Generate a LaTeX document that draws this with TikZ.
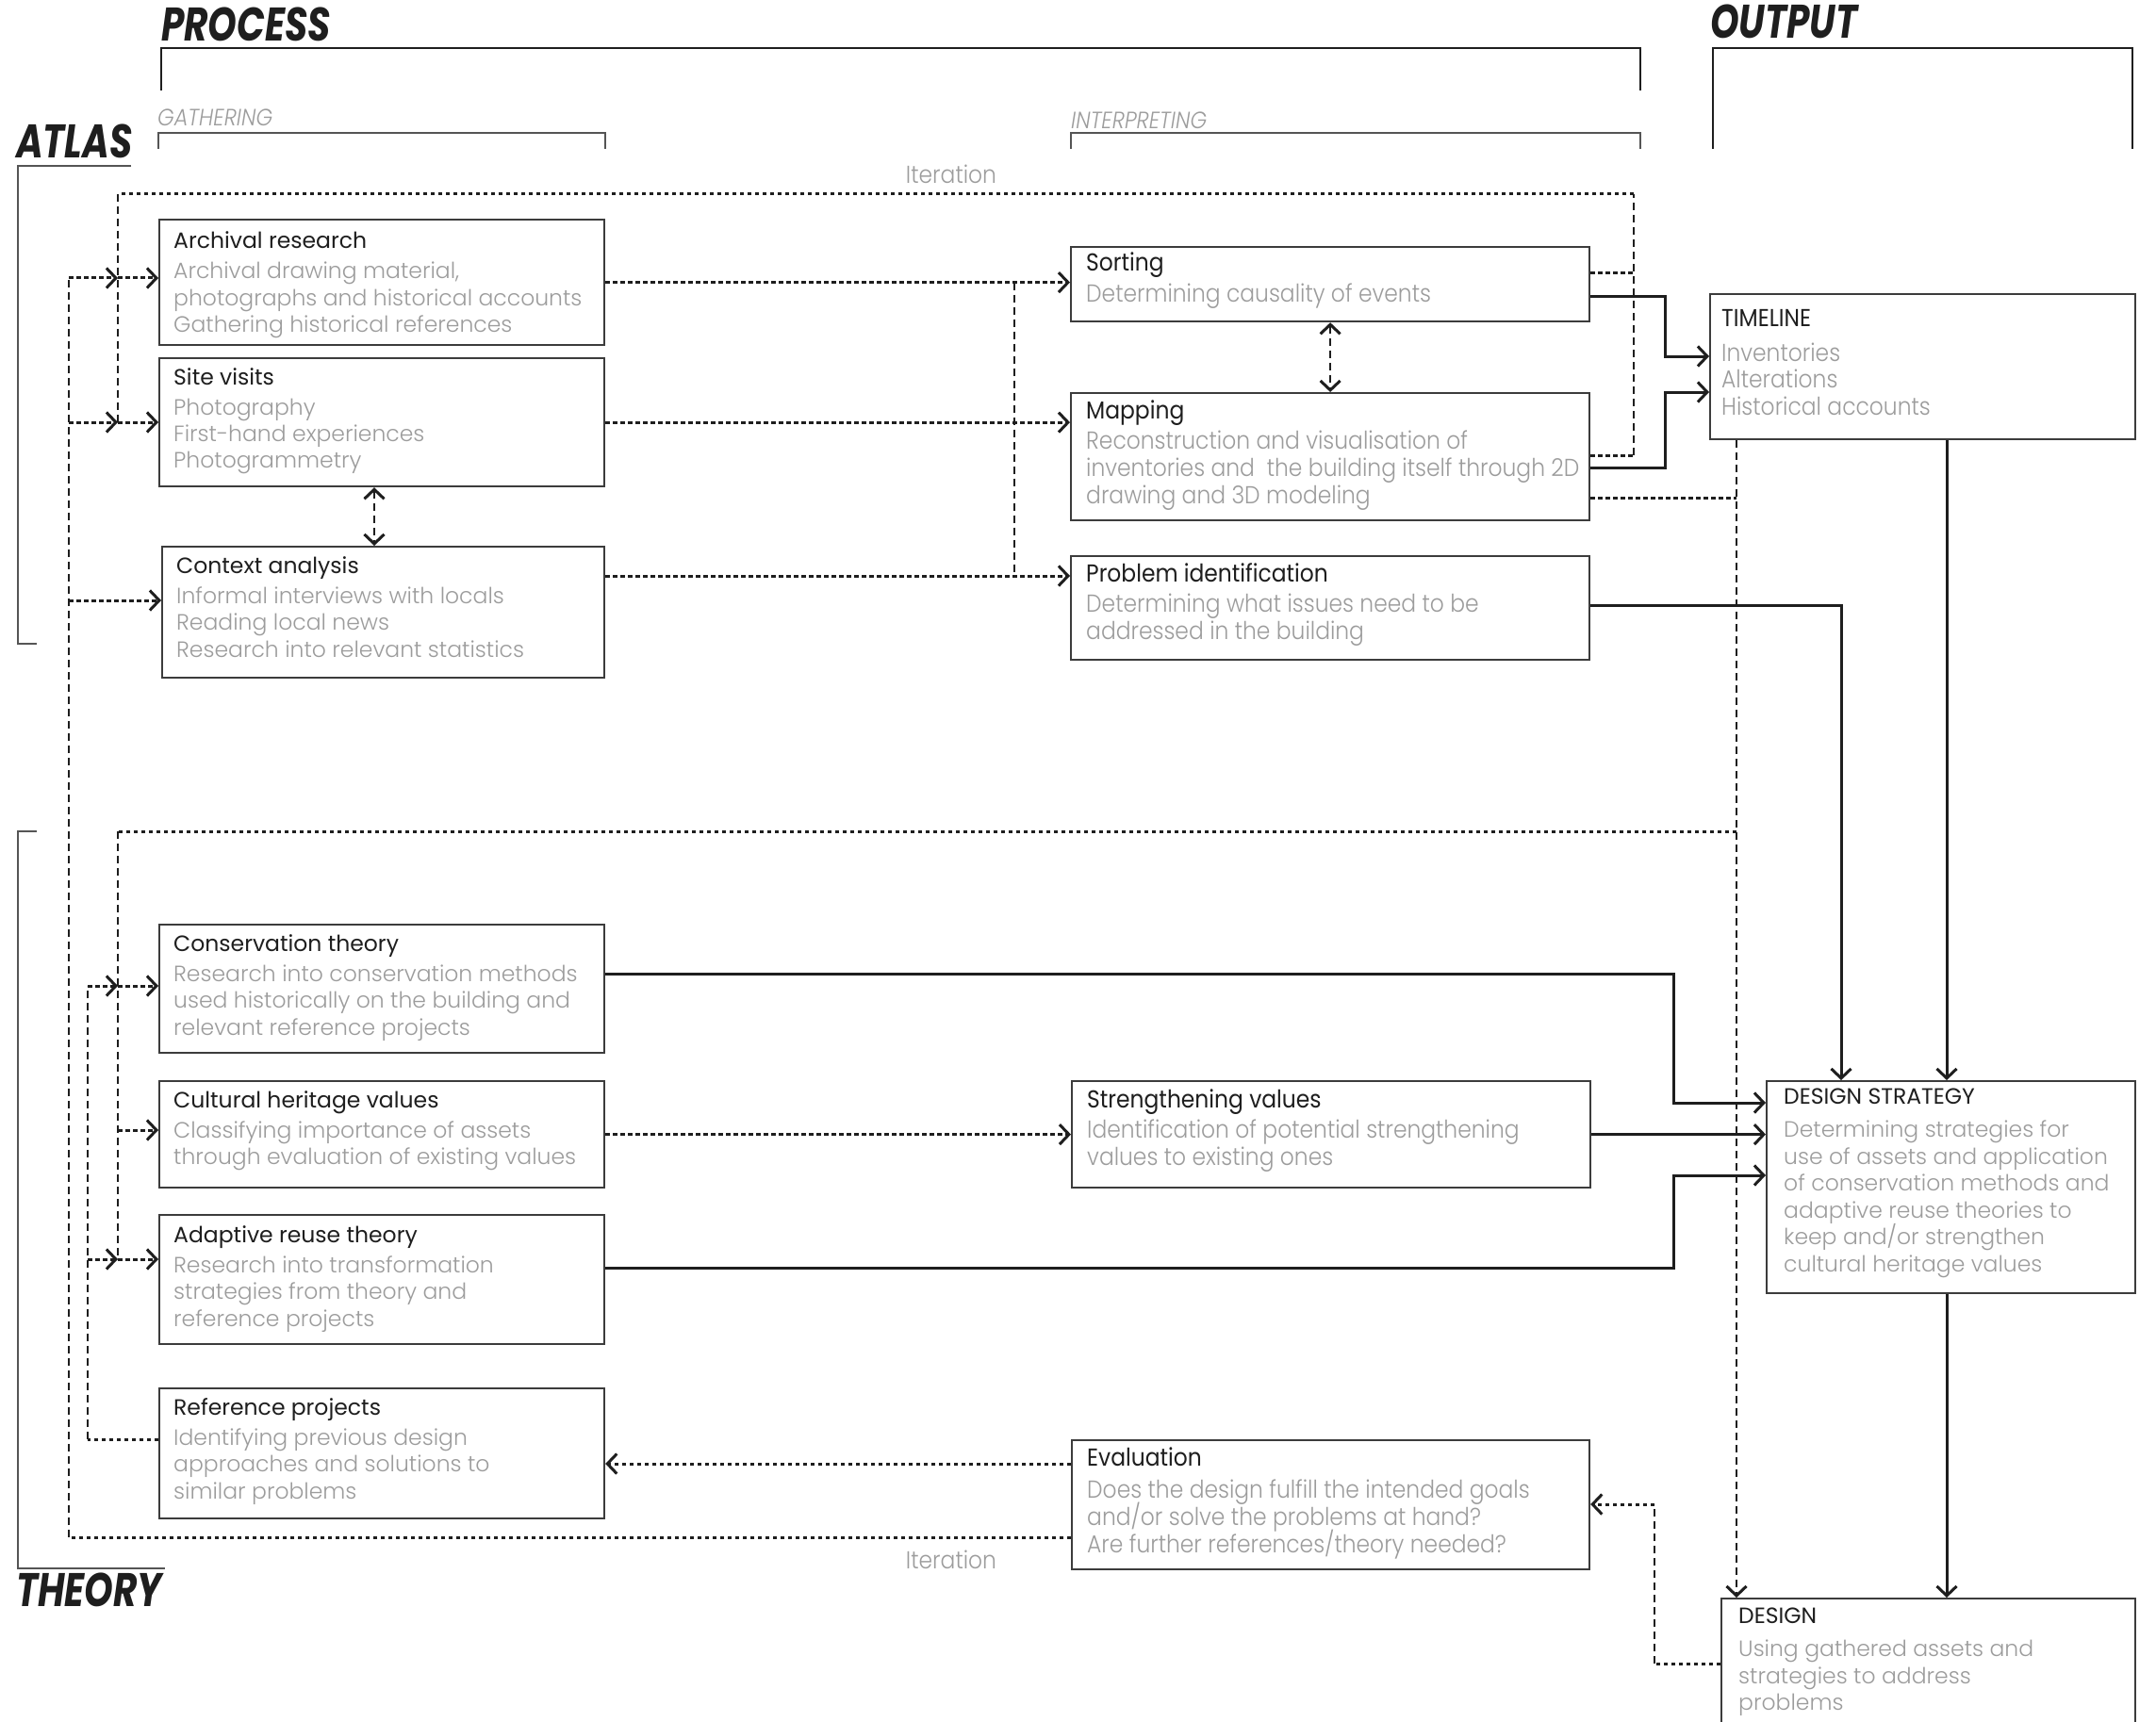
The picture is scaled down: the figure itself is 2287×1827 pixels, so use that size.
\documentclass[tikz,border=0pt]{standalone}
\usepackage{fontspec}
\usepackage{graphicx}
\setmainfont{Poppins}
\newfontfamily\popl{Poppins Light}
\newfontfamily\poplc{Poppins Light}[FakeStretch=0.9]
\newfontfamily\poprc{Poppins}[FakeStretch=0.9]
\newfontfamily\headf{Poppins}[FakeStretch=0.78]
\usetikzlibrary{arrows.meta}
\definecolor{ink}{HTML}{1E1E1E}
\definecolor{greytxt}{HTML}{9C9C9C}
\definecolor{boxline}{HTML}{3C3C3C}
\definecolor{brk}{HTML}{555555}
\newcommand\lefttext[3][3.5pt]{\parbox[t]{640pt}{\raggedright\lineskiplimit=-100pt\fontsize{23.5}{28.5}\selectfont\leavevmode\color{ink}#2\\[#1]\popl\color{greytxt}#3}}
\newcommand\midtext[3][3.5pt]{\parbox[t]{640pt}{\raggedright\lineskiplimit=-100pt\poprc\fontsize{26}{29}\selectfont\leavevmode\color{ink}#2\\[#1]\poplc\color{greytxt}#3}}
\begin{document}
\begin{tikzpicture}[x=1pt,y=-1pt,
  bx/.style={draw=boxline, line width=2.2pt, inner sep=0pt, anchor=north west, fill=white},
  txt/.style={anchor=base west, inner sep=0pt},
  head/.style={anchor=base west, inner sep=0pt, font=\headf\bfseries\itshape\fontsize{50}{50}\selectfont, text=ink},
  sub/.style={anchor=base west, inner sep=0pt, font=\poplc\itshape\fontsize{25}{25}\selectfont, text=greytxt},
  iter/.style={inner sep=0pt, font=\poplc\fontsize{26}{26}\selectfont, text=greytxt},
  brack/.style={draw=ink, line width=1.8pt},
  brackg/.style={draw=brk, line width=1.6pt},
  tip/.style={-{Straight Barb[length=10pt,width=21pt,line width=3pt]}},
  dtip/.style={{Straight Barb[length=10pt,width=21pt,line width=3pt]}-{Straight Barb[length=10pt,width=21pt,line width=3pt]}},
  dotl/.style={draw=ink, line width=3pt, dash pattern=on 4.5pt off 3.5pt},
  dashv/.style={draw=ink, line width=2.6pt, dash pattern=on 8pt off 5pt},
  dotarr/.style={dotl, tip},
  dasharr/.style={dashv, tip},
  dashboth/.style={dashv, dtip},
  sol/.style={draw=ink, line width=3pt},
  solarr/.style={sol, tip}
]
\useasboundingbox (0,0) rectangle (2287,1827);
\clip (0,0) rectangle (2287,1827);

% ---------- headings and brackets
\node[head] (hproc) at (171,44) {PROCESS};
\node[head] (hout) at (1814,41) {OUTPUT};
\node[head] (hatlas) at (17,168) {ATLAS};
\node[head] (htheory) at (17,1704) {THEORY};
\node[sub] (hgath) at (167,134) {GATHERING};
\node[sub] (hint) at (1136,137) {INTERPRETING};
\draw[brack] (171,96) -- (171,51) -- (1740,51) -- (1740,96);
\draw[brack] (1817,158) -- (1817,51) -- (2262,51) -- (2262,158);
\draw[brackg] (168,158) -- (168,141) -- (642,141) -- (642,158);
\draw[brackg] (1136,158) -- (1136,141) -- (1740,141) -- (1740,158);
\draw[brackg] (139,176) -- (19,176) -- (19,683) -- (39,683);
\draw[brackg] (39,882) -- (19,882) -- (19,1664) -- (175,1664);
\node[iter] (it1) at (1009,185) {Iteration};
\node[iter] (it2) at (1009,1655) {Iteration};

% ---------- helper coordinates
\coordinate (x73) at (73,0);
\coordinate (x93) at (93,0);
\coordinate (x125) at (125,0);
\coordinate (x397) at (397,0);
\coordinate (x1076) at (1076,0);
\coordinate (x1733) at (1733,0);
\coordinate (x1755) at (1755,0);
\coordinate (x1766) at (1766,0);
\coordinate (x1775) at (1775,0);
\coordinate (x1842) at (1842,0);
\coordinate (x1953) at (1953,0);
\coordinate (x2065) at (2065,0);
\coordinate (y206) at (0,206);
\coordinate (y290) at (0,290);
\coordinate (y295) at (0,295);
\coordinate (y315) at (0,315);
\coordinate (y378) at (0,378);
\coordinate (y416) at (0,416);
\coordinate (y448) at (0,448);
\coordinate (y483) at (0,483);
\coordinate (y496) at (0,496);
\coordinate (y528) at (0,528);
\coordinate (y611) at (0,611);
\coordinate (y637) at (0,637);
\coordinate (y642) at (0,642);
\coordinate (y882) at (0,882);
\coordinate (y1033) at (0,1033);
\coordinate (y1046) at (0,1046);
\coordinate (y1170) at (0,1170);
\coordinate (y1199) at (0,1199);
\coordinate (y1247) at (0,1247);
\coordinate (y1336) at (0,1336);
\coordinate (y1345) at (0,1345);
\coordinate (y1527) at (0,1527);
\coordinate (y1553) at (0,1553);
\coordinate (y1596) at (0,1596);
\coordinate (y1631) at (0,1631);
\coordinate (y1765) at (0,1765);

% ---------- boxes
\node[bx, minimum width=472pt, minimum height=133pt] (arch) at (168,232) {};
\node[bx, minimum width=472pt, minimum height=136pt] (site) at (168,379) {};
\node[bx, minimum width=469pt, minimum height=139pt] (ctx) at (171,579) {};
\node[bx, minimum width=472pt, minimum height=136pt] (cons) at (168,980) {};
\node[bx, minimum width=472pt, minimum height=113pt] (cult) at (168,1146) {};
\node[bx, minimum width=472pt, minimum height=137pt] (adapt) at (168,1288) {};
\node[bx, minimum width=472pt, minimum height=138pt] (ref) at (168,1472) {};
\node[bx, minimum width=550pt, minimum height=79pt] (sort) at (1135,261) {};
\node[bx, minimum width=550pt, minimum height=135pt] (map) at (1135,416) {};
\node[bx, minimum width=550pt, minimum height=110pt] (prob) at (1135,589) {};
\node[bx, minimum width=550pt, minimum height=113pt] (str) at (1136,1146) {};
\node[bx, minimum width=549pt, minimum height=137pt] (eval) at (1136,1527) {};
\node[bx, minimum width=451pt, minimum height=154pt] (tl) at (1813,311) {};
\node[bx, minimum width=391pt, minimum height=225pt] (ds) at (1873,1146) {};
\node[bx, minimum width=439pt, minimum height=260pt] (dsn) at (1825,1695) {};

% ---------- box texts
\node[txt] (arch-t) at ([xshift=16pt,yshift=-32pt]arch.north west) {\lefttext{Archival research}{Archival drawing material,\\photographs and historical accounts\\Gathering historical references}};
\node[txt] (site-t) at ([xshift=16pt,yshift=-29pt]site.north west) {\lefttext{Site visits}{Photography\\First-hand experiences\\Photogrammetry}};
\node[txt] (ctx-t) at ([xshift=16pt,yshift=-29pt]ctx.north west) {\lefttext{Context analysis}{Informal interviews with locals\\Reading local news\\Research into relevant statistics}};
\node[txt] (cons-t) at ([xshift=16pt,yshift=-29pt]cons.north west) {\lefttext{Conservation theory}{Research into conservation methods\\used historically on the building and\\relevant reference projects}};
\node[txt] (cult-t) at ([xshift=16pt,yshift=-29pt]cult.north west) {\lefttext{Cultural heritage values}{Classifying importance of assets\\through evaluation of existing values}};
\node[txt] (adapt-t) at ([xshift=16pt,yshift=-30pt]adapt.north west) {\lefttext{Adaptive reuse theory}{Research into transformation\\strategies from theory and\\reference projects}};
\node[txt] (ref-t) at ([xshift=16pt,yshift=-29pt]ref.north west) {\lefttext{Reference projects}{Identifying previous design\\approaches and solutions to\\similar problems}};
\node[txt] (sort-t) at ([xshift=17pt,yshift=-27pt]sort.north west) {\midtext{Sorting}{Determining causality of events}};
\node[txt] (map-t) at ([xshift=17pt,yshift=-28pt]map.north west) {\midtext{Mapping}{Reconstruction and visualisation of\\inventories and\ \ the building itself through 2D\\drawing and 3D modeling}};
\node[txt] (prob-t) at ([xshift=17pt,yshift=-28pt]prob.north west) {\midtext{Problem identification}{Determining what issues need to be\\addressed in the building}};
\node[txt] (str-t) at ([xshift=17pt,yshift=-29pt]str.north west) {\midtext{Strengthening values}{Identification of potential strengthening\\values to existing ones}};
\node[txt] (eval-t) at ([xshift=17pt,yshift=-28pt]eval.north west) {\midtext[5pt]{Evaluation}{Does the design fulfill the intended goals\\and/or solve the problems at hand?\\Are further references/theory needed?}};
\node[txt] (tl-t) at ([xshift=13pt,yshift=-35pt]tl.north west) {\midtext[8pt]{TIMELINE}{Inventories\\Alterations\\Historical accounts}};
\node[txt] (ds-t) at ([xshift=19pt,yshift=-25pt]ds.north west) {\lefttext[7pt]{DESIGN STRATEGY}{Determining strategies for\\use of assets and application\\of conservation methods and\\adaptive reuse theories to\\keep and/or strengthen\\cultural heritage values}};
\node[txt] (dsn-t) at ([xshift=19pt,yshift=-27pt]dsn.north west) {\lefttext[7pt]{DESIGN}{Using gathered assets and\\strategies to address\\problems}};

% ---------- gathering -> interpreting
\draw[dotarr] (arch.east) -- (arch.east -| sort.west);
\draw[dashv] (arch.east -| x1076) -- (x1076 |- y611);
\draw[dotarr] (site.east) -- (site.east -| map.west);
\draw[dotarr] (ctx.east |- y611) -- (prob.west |- y611);
\draw[dashboth] (site.south -| x397) -- (ctx.north -| x397);
\draw[dashboth] (sort.south) -- (map.north);

% ---------- top iteration loop
\draw[dotl] (sort.east |- y290) -- (x1733 |- y290);
\draw[dotl] (map.east |- y483) -- (x1733 |- y483);
\draw[dashv] (x1733 |- y483) -- (x1733 |- y206);
\draw[dotl] (x1733 |- y206) -- (x125 |- y206);
\draw[dashv] (x125 |- y206) -- (x125 |- y448);
\draw[dotarr] (x125 |- y295) -- (arch.west |- y295);
\draw[dotarr] (x125 |- y448) -- (site.west |- y448);

% ---------- outer iteration loop
\draw[dotl] (eval.west |- y1631) -- (x73 |- y1631);
\draw[dashv] (x73 |- y1631) -- (x73 |- y295);
\draw[dotarr] (x73 |- y295) -- (x125 |- y295);
\draw[dotarr] (x73 |- y448) -- (x125 |- y448);
\draw[dotarr] (x73 |- y637) -- (ctx.west |- y637);

% ---------- timeline
\draw[solarr] (sort.east |- y315) -- (x1766 |- y315) -- (x1766 |- y378) -- (tl.west |- y378);
\draw[solarr] (map.east |- y496) -- (x1766 |- y496) -- (x1766 |- y416) -- (tl.west |- y416);
\draw[dotl] (map.east |- y528) -- (x1842 |- y528);
\draw[dasharr] (tl.south -| x1842) -- (dsn.north -| x1842);

% ---------- theory loop
\draw[dotl] (x1842 |- y882) -- (x125 |- y882);
\draw[dashv] (x125 |- y882) -- (x125 |- y1336);
\draw[dotarr] (x125 |- y1046) -- (cons.west |- y1046);
\draw[dotarr] (x125 |- y1199) -- (cult.west |- y1199);
\draw[dotarr] (x125 |- y1336) -- (adapt.west |- y1336);
\draw[dotl] (ref.west |- y1527) -- (x93 |- y1527);
\draw[dashv] (x93 |- y1527) -- (x93 |- y1046);
\draw[dotarr] (x93 |- y1046) -- (x125 |- y1046);
\draw[dotarr] (x93 |- y1336) -- (x125 |- y1336);
\draw[dotarr] (cult.east) -- (cult.east -| str.west);

% ---------- design strategy
\draw[solarr] (tl.south -| x2065) -- (ds.north -| x2065);
\draw[solarr] (prob.east |- y642) -- (x1953 |- y642) -- (x1953 |- ds.north);
\draw[solarr] (cons.east |- y1033) -- (x1775 |- y1033) -- (x1775 |- y1170) -- (ds.west |- y1170);
\draw[solarr] (str.east) -- (str.east -| ds.west);
\draw[solarr] (adapt.east |- y1345) -- (x1775 |- y1345) -- (x1775 |- y1247) -- (ds.west |- y1247);
\draw[solarr] (ds.south -| x2065) -- (dsn.north -| x2065);

% ---------- design / evaluation
\draw[dotl] (dsn.west |- y1765) -- (x1755 |- y1765);
\draw[dashv] (x1755 |- y1765) -- (x1755 |- y1596);
\draw[dotarr] (x1755 |- y1596) -- (eval.east |- y1596);
\draw[dotarr] (eval.west |- y1553) -- (ref.east |- y1553);
\end{tikzpicture}
\end{document}
